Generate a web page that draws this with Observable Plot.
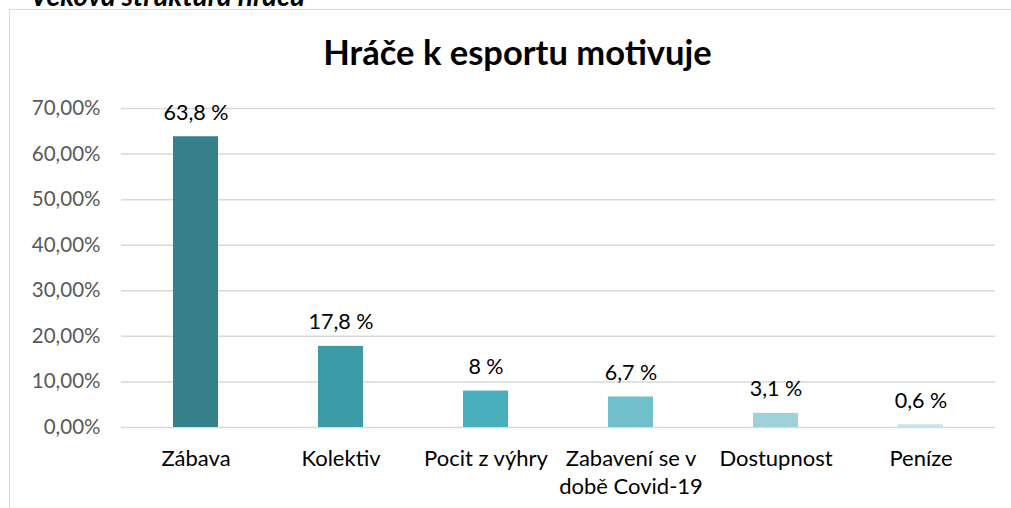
<!DOCTYPE html>
<html>
<head>
<meta charset="utf-8">
<script src="https://cdn.jsdelivr.net/npm/d3@7"></script>
<script src="https://cdn.jsdelivr.net/npm/@observablehq/plot@0.6"></script>
<style>
  html, body { margin: 0; padding: 0; background: #fff; }
  #wrap { position: relative; width: 1011px; height: 508px; overflow: hidden; font-family: Lato, "Noto Sans", sans-serif; }
  #above { position: absolute; left: 30px; top: -19px; font-size: 28px; line-height: 1; font-style: italic; font-weight: bold; color: #000; white-space: nowrap; }
  #box { position: absolute; left: 9px; top: 9px; width: 1030px; height: 520px; border: 1.5px solid #d9d9d9; box-sizing: border-box; }
  #title { position: absolute; left: 10px; width: 1015px; top: 31px; text-align: center; font-size: 34.5px; line-height: 1.2; font-weight: bold; color: #000; }
  #chart { position: absolute; left: 0; top: 0; }
</style>
</head>
<body>
<div id="wrap">
  <div id="above">Věková struktura hráčů</div>
  <div id="box"></div>
  <div id="title">Hráče k esportu motivuje</div>
  <div id="chart"></div>
</div>
<script>
const categories = ["Zábava", "Kolektiv", "Pocit z výhry", "Zabavení se v\ndobě Covid-19", "Dostupnost", "Peníze"];
const values = [63.8, 17.8, 8, 6.7, 3.1, 0.6];
const colors = ["#35808A", "#3D9BA7", "#4AAFBC", "#72C0CC", "#A0D1DB", "#C6E4EA"];
const yTicks = [0, 10, 20, 30, 40, 50, 60, 70];

const data = categories.map((c, i) => ({cat: c, value: values[i], color: colors[i]}));
const fmtTick = d => d.toFixed(2).replace(".", ",") + "%";
const fmtLabel = d => String(d).replace(".", ",") + " %";

const chart = Plot.plot({
  width: 1011,
  height: 508,
  marginLeft: 121,
  marginRight: 16,
  marginTop: 108,
  marginBottom: 81,
  style: {fontFamily: "Lato, 'Noto Sans', sans-serif", fontSize: "20px", background: "transparent", overflow: "visible"},
  x: {domain: categories, paddingInner: 0.69, paddingOuter: 0.345, label: null},
  y: {domain: [0, 70], label: null},
  marks: [
    Plot.gridY(yTicks, {stroke: "#d9d9d9", strokeOpacity: 1, strokeWidth: 1.5}),
    Plot.barY(data, {x: "cat", y: "value", fill: "color"}),
    Plot.axisY({ticks: yTicks, tickFormat: fmtTick, tickSize: 0, tickPadding: 21, fill: "#595959", fontSize: 20.5, label: null}),
    Plot.axisX({tickSize: 0, tickPadding: 18, fill: "#000", fontSize: 22, label: null, lineHeight: 1.3}),
    Plot.text(data, {x: "cat", y: "value", text: d => fmtLabel(d.value), dy: -17, lineAnchor: "bottom", fill: "#000", fontSize: 21.5})
  ]
});
document.getElementById("chart").appendChild(chart);
</script>
</body>
</html>
